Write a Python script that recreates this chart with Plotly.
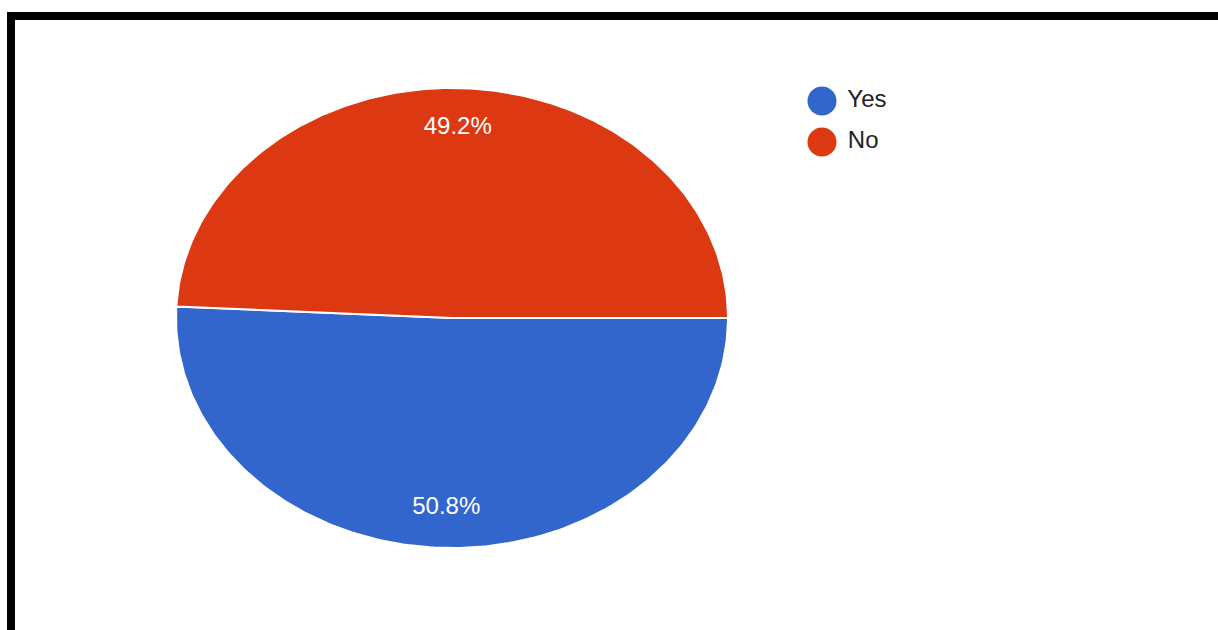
import numpy as np
import plotly.graph_objects as go

# ---- data ----
categories = ["Yes", "No"]
values = [50.8, 49.2]
colors = ["#3366CC", "#DC3912"]
labels_text = ["50.8%", "49.2%"]

W, H = 1218, 630
fig = go.Figure()

# pie drawn as filled sectors on a unit-circle axis (stretched into an ellipse by the axis scaling)
total = sum(values)
start = 0.0  # 3 o'clock, going clockwise
label_r = 0.825
lx, ly = [], []
for cat, val, col in zip(categories, values, colors):
    sweep = 2 * np.pi * val / total
    th = np.linspace(start, start - sweep, 200)
    xs = np.concatenate([[0], np.cos(th), [0]])
    ys = np.concatenate([[0], np.sin(th), [0]])
    fig.add_trace(go.Scatter(
        x=xs, y=ys, mode="lines", fill="toself", fillcolor=col,
        line=dict(color="white", width=2), hoverinfo="skip",
        showlegend=False, xaxis="x", yaxis="y"))
    mid = start - sweep / 2
    lx.append(label_r * np.cos(mid))
    ly.append(label_r * np.sin(mid))
    start -= sweep

fig.add_trace(go.Scatter(
    x=lx, y=ly, mode="text", text=labels_text,
    textfont=dict(color="white", size=24, family="Arial, Liberation Sans, sans-serif"),
    hoverinfo="skip", showlegend=False, xaxis="x", yaxis="y"))

# custom legend (pixel-space axis)
leg_x = 822
leg_y = [101, 142]
fig.add_trace(go.Scatter(
    x=[leg_x] * len(categories), y=leg_y, mode="markers+text",
    marker=dict(color=colors, size=29, symbol="circle"),
    text=[" " + c for c in categories], textposition="middle right",
    textfont=dict(color="#222222", size=24, family="Arial, Liberation Sans, sans-serif"),
    cliponaxis=False,
    hoverinfo="skip", showlegend=False, xaxis="x2", yaxis="y2"))

fig.update_layout(
    width=W, height=H, autosize=False,
    margin=dict(l=0, r=0, t=0, b=0),
    paper_bgcolor="white", plot_bgcolor="rgba(0,0,0,0)",
    xaxis=dict(domain=[176 / W, 728 / W], range=[-1, 1], visible=False,
               fixedrange=True, anchor="y"),
    yaxis=dict(domain=[1 - 548 / H, 1 - 88 / H], range=[-1, 1], visible=False,
               fixedrange=True, anchor="x"),
    xaxis2=dict(domain=[0, 1], range=[0, W], visible=False, fixedrange=True, anchor="y2"),
    yaxis2=dict(domain=[0, 1], range=[H, 0], visible=False, fixedrange=True, anchor="x2"),
    showlegend=False,
    shapes=[
        dict(type="rect", xref="paper", yref="paper",
             x0=7 / W, x1=1, y0=1 - 20 / H, y1=1 - 12 / H,
             fillcolor="black", line=dict(width=0)),
        dict(type="rect", xref="paper", yref="paper",
             x0=7 / W, x1=15 / W, y0=0, y1=1 - 12 / H,
             fillcolor="black", line=dict(width=0)),
    ],
)

fig.write_html("out.html", config={"displayModeBar": False},
               post_script="document.body.style.margin='0';")
